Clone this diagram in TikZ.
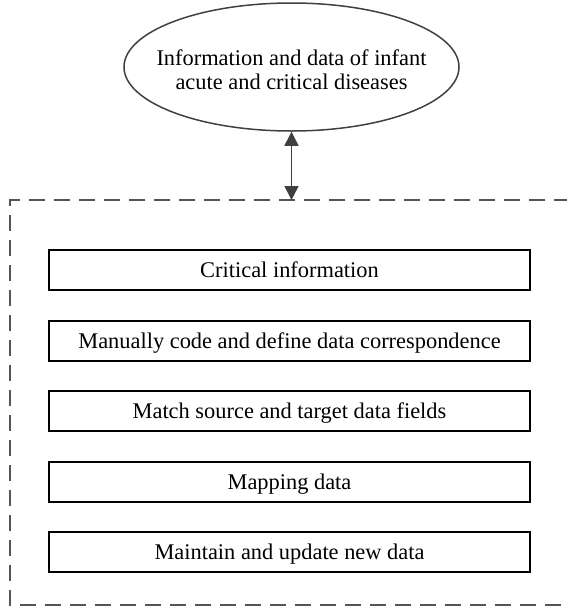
\documentclass[tikz,border=0pt]{standalone}
\usepackage{fontspec}
\setmainfont{Liberation Serif}
\usetikzlibrary{shapes.geometric,arrows.meta}
\definecolor{edgegray}{HTML}{404040}
\definecolor{framegray}{HTML}{555555}
\tikzset{
  stepbox/.style={draw=black, line width=1.6pt, minimum width=481pt, minimum height=40pt, inner sep=0pt, text height=16.5pt, text depth=1.5pt, font=\fontsize{22.4}{24}\selectfont},
  topell/.style={ellipse, draw=edgegray, line width=1.5pt, minimum width=335pt, minimum height=128pt, inner xsep=-30pt, inner ysep=0pt, font=\fontsize{22.4}{24}\selectfont},
  frameline/.style={draw=framegray, line width=1.5pt, dash pattern=on 16pt off 9pt},
  link/.style={draw=edgegray, line width=1.5pt, {Triangle[length=14pt,width=14pt]}-{Triangle[length=14pt,width=14pt]}}
}
\begin{document}
\begin{tikzpicture}[x=1pt,y=-1pt]
\useasboundingbox (0,0) rectangle (567,606);
\node[topell] (ell) at (291.5,67) {\vbox{\kern12pt\hbox{\begin{tabular}{@{}c@{}}Information and data of infant\\acute and critical diseases\end{tabular}}}};
\coordinate (ftop) at (291.5,200);
\coordinate (fr) at (570,200);
\coordinate (fl) at (10,200);
\coordinate (flb) at (10,605);
\coordinate (frb) at (570,605);
\draw[frameline] (fr) -- (fl) -- (flb) -- (frb);
\draw[link] (ell.south) -- (ftop);
\node[stepbox] (b1) at (289.5,270.25) {Critical information};
\node[stepbox] (b2) at (289.5,340.75) {Manually code and define data correspondence};
\node[stepbox] (b3) at (289.5,411.25) {Match source and target data fields};
\node[stepbox] (b4) at (289.5,481.75) {Mapping data};
\node[stepbox] (b5) at (289.5,552.25) {Maintain and update new data};
\end{tikzpicture}
\end{document}
